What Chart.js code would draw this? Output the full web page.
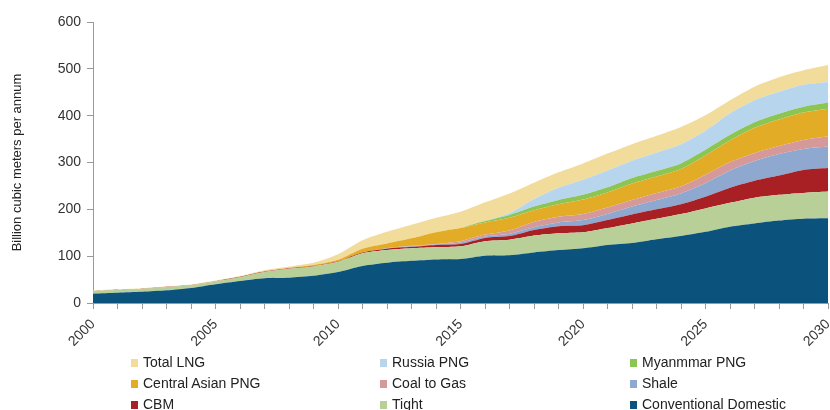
<!DOCTYPE html>
<html>
<head>
<meta charset="utf-8">
<script src="https://cdn.jsdelivr.net/npm/chart.js@4"></script>
<style>
  body { margin: 0; background: #fff; }
  #wrap { position: relative; width: 830px; height: 410px; }
  #legend { position: absolute; left: 0; top: 354px; width: 830px; font-family: "Liberation Sans", sans-serif; font-size: 14px; line-height: 16px; color: #222; }
  .item { position: absolute; white-space: nowrap; }
  .item span.box { display: inline-block; width: 7px; height: 8px; margin-right: 5px; vertical-align: 0px; }
</style>
</head>
<body>
<div id="wrap">
  <canvas id="gasChart" width="830" height="410"></canvas>
  <div id="legend"></div>
</div>
<script>
const years = [2000, 2001, 2002, 2003, 2004, 2005, 2006, 2007, 2008, 2009, 2010,
    2011, 2012, 2013, 2014, 2015, 2016, 2017, 2018, 2019, 2020,
    2021, 2022, 2023, 2024, 2025, 2026, 2027, 2028, 2029, 2030];

// billion cubic meters per annum, stacked bottom to top
const conventional = [20, 22, 24, 27, 32, 40, 47, 53, 54, 58, 66, 79, 86, 90, 93, 94, 101, 102, 108, 113, 117, 124, 128, 136, 143, 152, 163, 170, 176, 180, 181];
const tight = [6, 6, 6, 7, 6, 6, 8, 13, 19, 20, 22, 27, 27, 27, 26, 27, 31, 33, 36, 36, 34, 36, 42, 44, 47, 50, 51, 55, 55, 55, 57];
const cbm = [0.3, 0.4, 0.5, 0.5, 0.6, 0.6, 0.8, 1, 1, 1, 1.2, 2, 3, 3, 5, 5, 7, 8, 12, 15, 15, 17, 19, 20, 21, 25, 32, 36, 41, 49, 50];
const shale = [0, 0, 0, 0, 0, 0, 0, 0, 0, 0, 0, 0, 1, 1, 1, 3, 3, 5, 6, 8, 11, 13, 17, 20, 23, 29, 37, 42, 46, 45, 46];
const coalToGas = [0, 0, 0, 0, 0, 0, 0, 0, 0, 0, 0, 0, 0, 1, 1, 3, 4, 7, 11, 12, 13, 14, 14, 15, 15, 18, 18, 17, 17, 19, 22];
const centralAsian = [0, 0, 0, 0, 0, 0, 0, 0, 1, 2, 3, 8, 10, 16, 25, 28, 26, 27, 25, 27, 31, 32, 35, 35, 37, 41, 46, 54, 57, 59, 59];
const myanmar = [0, 0, 0, 0, 0, 0, 0, 0, 0, 0, 0, 0, 0, 0, 0, 0, 3, 6, 8, 9, 10, 11, 12, 12, 12, 12, 12, 12, 12, 12, 13];
const russia = [0, 0, 0, 0, 0, 0, 0, 0, 0, 0, 0, 0, 0, 0, 0, 0, 0, 4, 16, 26, 32, 36, 37, 39, 41, 41, 46, 47, 47, 47, 44];
const totalLng = [1, 1, 1, 1, 1, 1.5, 2, 3, 3, 5, 12, 18, 25, 29, 31, 35, 40, 42, 35, 33, 35, 36, 35, 36, 37, 33, 28, 29, 31, 31, 36];

const seriesNames = ["Conventional Domestic", "Tight", "CBM", "Shale", "Coal to Gas", "Central Asian PNG", "Myanmmar PNG", "Russia PNG", "Total LNG"];
const seriesData = [conventional, tight, cbm, shale, coalToGas, centralAsian, myanmar, russia, totalLng];
const seriesColors = ["#0b527d", "#b9cf98", "#a81f24", "#8ea8cf", "#d6999a", "#e3ac27", "#8bc655", "#b8d5ee", "#f2dc9b"];

// legend order as in the picture (3 columns)
const legendOrder = ["Total LNG", "Russia PNG", "Myanmmar PNG", "Central Asian PNG", "Coal to Gas", "Shale", "CBM", "Tight", "Conventional Domestic"];

const datasets = seriesNames.map((name, i) => ({
    label: name,
    data: seriesData[i],
    backgroundColor: seriesColors[i],
    borderColor: seriesColors[i],
    borderWidth: 0,
    pointRadius: 0,
    tension: 0.25,
    fill: i === 0 ? "origin" : "-1"
}));

const ctx = document.getElementById("gasChart").getContext("2d");
new Chart(ctx, {
    type: "line",
    data: { labels: years, datasets },
    options: {
        responsive: false,
        animation: false,
        layout: { padding: { left: 0, top: 22, right: 2, bottom: 62 } },
        plugins: { legend: { display: false }, tooltip: { enabled: false } },
        scales: {
            x: {
                offset: false,
                grid: { display: true, drawOnChartArea: false, drawTicks: true, tickLength: 6, color: "#9a9a9a" },
                border: { color: "#9a9a9a" },
                ticks: {
                    autoSkip: false,
                    maxRotation: 45,
                    minRotation: 45,
                    padding: 7,
                    color: "#333",
                    font: { family: "Liberation Sans", size: 14 },
                    callback: function (val) {
                        const y = years[val];
                        return y % 5 === 0 ? String(y) : "";
                    }
                },
                afterFit: s => { s.height = 45; s.paddingRight = 0; s.paddingLeft = 0; }
            },
            y: {
                stacked: true,
                min: 0,
                max: 600,
                grid: { display: true, drawOnChartArea: false, drawTicks: true, tickLength: 6, color: "#9a9a9a" },
                border: { color: "#9a9a9a" },
                ticks: {
                    stepSize: 100,
                    padding: 6,
                    color: "#333",
                    font: { family: "Liberation Sans", size: 14 }
                },
                title: {
                    display: true,
                    text: "Billion cubic meters per annum",
                    color: "#222",
                    font: { family: "Liberation Sans", size: 13 },
                    padding: { top: 10, bottom: 4 }
                },
                afterFit: s => { s.width = 93; }
            }
        }
    }
});

// html legend in three columns
const leg = document.getElementById("legend");
const colX = [131, 380, 630];
legendOrder.forEach((name, k) => {
    const i = seriesNames.indexOf(name);
    const el = document.createElement("div");
    el.className = "item";
    el.style.left = colX[k % 3] + "px";
    el.style.top = (Math.floor(k / 3) * 21) + "px";
    el.innerHTML = '<span class="box" style="background:' + seriesColors[i] + '"></span>' + name;
    leg.appendChild(el);
});
</script>
</body>
</html>
